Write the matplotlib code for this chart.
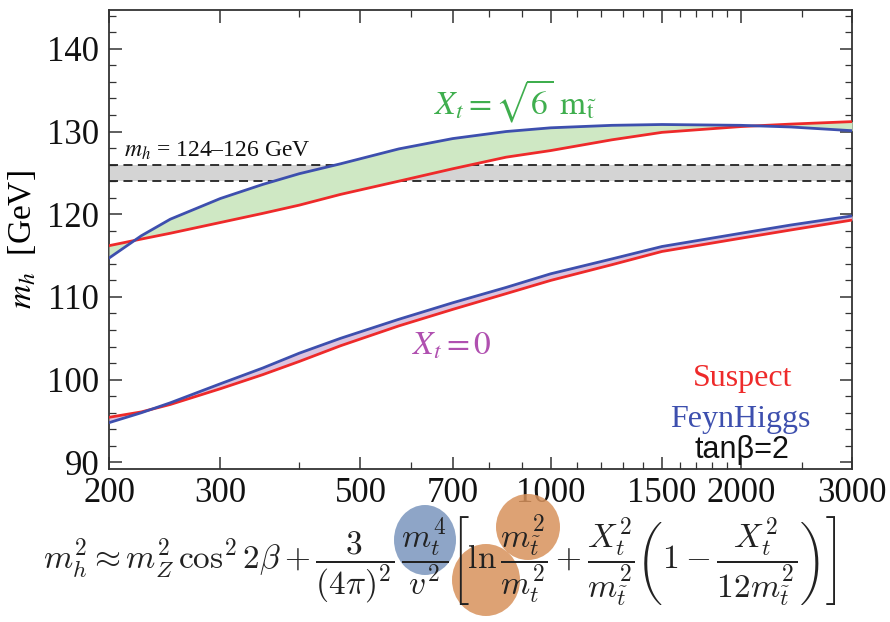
import matplotlib
matplotlib.use("Agg")
import matplotlib.pyplot as plt
from matplotlib.patches import Ellipse
from matplotlib.ticker import FixedLocator, NullFormatter

# stop mass grid [GeV]
m_stop = [200, 225, 250, 300, 350, 400, 465, 575, 700, 850, 1000, 1250, 1500, 2000, 2400, 3000]

# X_t = sqrt(6) m_stop
feyn_max = [114.7, 117.4, 119.4, 121.9, 123.6, 124.9, 126.1, 127.9, 129.15, 130.0,
            130.45, 130.75, 130.85, 130.75, 130.55, 130.1]
susp_max = [116.2, 117.0, 117.7, 119.0, 120.1, 121.1, 122.4, 124.0, 125.5, 126.9,
            127.7, 129.0, 129.9, 130.6, 130.9, 131.2]

# X_t = 0
feyn_zero = [94.8, 96.0, 97.2, 99.5, 101.4, 103.2, 105.0, 107.3, 109.3, 111.15,
             112.8, 114.6, 116.1, 117.7, 118.7, 119.8]
susp_zero = [95.45, 96.1, 97.0, 98.9, 100.6, 102.2, 104.1, 106.5, 108.5, 110.4,
             112.0, 113.9, 115.5, 117.1, 118.1, 119.3]

band = (124, 126)
x_major = [200, 300, 500, 700, 1000, 1500, 2000, 3000]
x_minor = [400, 600, 800, 900, 1100, 1200, 1300, 1400, 1600, 1700, 1800, 1900, 2500]

RED = "#ee2a2a"
BLUE = "#3d4fae"

fig = plt.figure(figsize=(8.9, 6.22), dpi=100)
ax = fig.add_axes([0.1225, 0.246, 0.835, 0.738])

ax.axhspan(band[0], band[1], color="#d4d4d4", zorder=1, lw=0)
for yb in band:
    ax.axhline(yb, color="#222222", ls=(0, (5, 3)), lw=1.3, zorder=2)

ax.fill_between(m_stop, feyn_max, susp_max, color="#cfe8c4", zorder=3, lw=0)
ax.fill_between(m_stop, feyn_zero, susp_zero, color="#dcc3de", zorder=3, lw=0)

for y in (susp_max, susp_zero):
    ax.plot(m_stop, y, color=RED, lw=2, zorder=4)
for y in (feyn_max, feyn_zero):
    ax.plot(m_stop, y, color=BLUE, lw=2, zorder=5)

ax.set_xscale("log")
ax.set_xlim(200, 3000)
ax.set_ylim(89.2, 144.7)
ax.xaxis.set_major_locator(FixedLocator(x_major))
ax.xaxis.set_minor_locator(FixedLocator(x_minor))
ax.xaxis.set_minor_formatter(NullFormatter())
ax.set_xticklabels([str(v) for v in x_major])
ax.set_yticks([90, 100, 110, 120, 130, 140])
ax.yaxis.set_minor_locator(FixedLocator(range(90, 145, 2)))

ax.tick_params(which="both", direction="in", top=True, right=True, color="#333333")
ax.tick_params(which="major", length=9, width=1.1)
ax.tick_params(axis="x", which="major", pad=6)
ax.tick_params(axis="y", which="major", pad=7)
ax.tick_params(which="minor", length=5, width=0.9)
for lab in ax.get_xticklabels() + ax.get_yticklabels():
    lab.set_fontfamily("Liberation Serif")
    lab.set_fontsize(25)
    lab.set_color("#111111")
for sp in ax.spines.values():
    sp.set_color("#333333")
    sp.set_linewidth(1.3)

fig.text(0.025, 0.614, r"$m_h$  [GeV]", rotation=90, ha="center", va="center",
         fontsize=24, family="Liberation Serif", math_fontfamily="stix")

ax.text(211, 127.0, r"$m_h$ = 124–126 GeV", fontsize=17, family="Liberation Serif",
        math_fontfamily="stix", color="#111111", zorder=6)
ax.text(878, 133.6, r"$X_t = \sqrt{6}\ \mathrm{m}_{\tilde{\mathrm{t}}}$", fontsize=24,
        color="#3fae4e", ha="center", va="center", math_fontfamily="stix", zorder=6)
ax.text(698, 104.2, r"$X_t = 0$", fontsize=24, color="#b050b0",
        ha="center", va="center", math_fontfamily="stix", zorder=6)

ax.text(0.852, 0.198, "Suspect", transform=ax.transAxes, ha="center", va="center",
        fontsize=23, family="Liberation Serif", color=RED)
ax.text(0.850, 0.107, "FeynHiggs", transform=ax.transAxes, ha="center", va="center",
        fontsize=23, family="Liberation Serif", color=BLUE)
ax.text(0.852, 0.041, "tanβ=2", transform=ax.transAxes, ha="center", va="center",
        fontsize=22, family="Liberation Sans", color="#111111")

# highlight blobs behind the formula
W, H = 890.0, 622.0
for cx, cy, w, h, c in [(425, 540, 62, 70, "#7a96bd"),
                        (528, 527, 64, 66, "#d8925c"),
                        (486, 580, 68, 72, "#d8925c")]:
    fig.patches.append(Ellipse((cx / W, 1 - cy / H), w / W, h / H,
                               transform=fig.transFigure, color=c, alpha=0.85, lw=0))

formula = (r"$m_h^2 \approx m_Z^2\,\cos^2 2\beta + \dfrac{3}{(4\pi)^2}\,\dfrac{m_t^4}{v^2}"
           r"\left[\ln\dfrac{m_{\tilde{t}}^2}{m_t^2} + \dfrac{X_t^2}{m_{\tilde{t}}^2}"
           r"\left(1 - \dfrac{X_t^2}{12 m_{\tilde{t}}^2}\right)\right]$")
fig.text(0.494, 1 - 561 / H, formula, ha="center", va="center", fontsize=24,
         math_fontfamily="cm", color="#222222", zorder=10)

fig.savefig("out.png", dpi=100)
